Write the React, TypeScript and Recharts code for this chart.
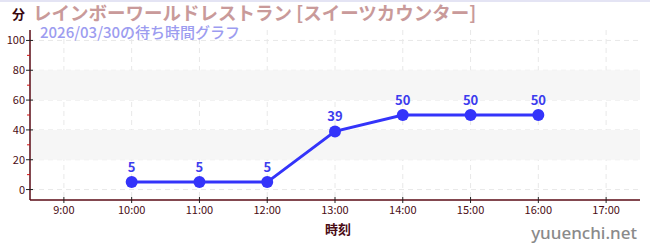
import {
  LineChart,
  Line,
  XAxis,
  YAxis,
  CartesianGrid,
  ReferenceArea,
  LabelList,
} from 'recharts'

const hours = [10, 11, 12, 13, 14, 15, 16]
const waits = [5, 5, 5, 39, 50, 50, 50]
const hourTicks = [9, 10, 11, 12, 13, 14, 15, 16, 17]
const yTicks = [0, 10, 20, 30, 40, 50, 60, 70, 80, 90, 100]
const gridValues = [0, 20, 40, 60, 80, 100]
const bands = [
  [20, 40],
  [60, 80],
]

const data = hours.map((h, i) => ({ h, wait: waits[i] }))

const AXIS = '#5a0a14'
const TICK_TEXT = '#4a0c14'
const LINE = '#3434fa'
const FONT = '"Noto Sans CJK JP", "Noto Sans", sans-serif'

function YTick({ x, y, payload }: any) {
  const major = payload.value % 20 === 0
  if (!major) {
    return <line x1={x - 3} x2={x} y1={y} y2={y} stroke="#d01010" strokeWidth={1} />
  }
  return (
    <g>
      <line x1={x - 4} x2={x + 3} y1={y} y2={y} stroke="#222" strokeWidth={1} />
      <text x={x - 5} y={y} dy={4} textAnchor="end" fontSize={11} fill={TICK_TEXT} fontFamily={FONT}>
        {payload.value}
      </text>
    </g>
  )
}

function XTick({ x, y, payload }: any) {
  return (
    <g>
      <line x1={x} x2={x} y1={y - 3} y2={y + 3} stroke="#222" strokeWidth={1} />
      <text x={x} y={y} dy={14} textAnchor="middle" fontSize={11} fill={TICK_TEXT} fontFamily={FONT}>
        {`${payload.value}:00`}
      </text>
    </g>
  )
}

export default function App() {
  return (
    <div
      style={{
        position: 'absolute',
        left: 0,
        top: 0,
        width: 650,
        height: 250,
        background: '#fff',
        fontFamily: FONT,
      }}
    >
      <div style={{ position: 'absolute', left: 0, top: 0, width: 650, height: 2, background: '#e4e4f4' }} />
      <LineChart
        width={650}
        height={250}
        data={data}
        margin={{ top: 30, right: 10, bottom: 30, left: 0 }}
        style={{ position: 'absolute', left: 0, top: 0 }}
      >
        {bands.map(([a, b]) => (
          <ReferenceArea key={a} y1={a} y2={b} fill="#f6f6f6" fillOpacity={1} stroke="none" ifOverflow="hidden" />
        ))}
        <CartesianGrid
          stroke="#e8e8e8"
          strokeDasharray="5 4"
          horizontalValues={gridValues}
          verticalValues={hourTicks}
        />
        <XAxis
          type="number"
          dataKey="h"
          domain={[8.5, 17.5]}
          ticks={hourTicks}
          interval={0}
          tick={<XTick />}
          tickLine={false}
          tickSize={0}
          tickMargin={0}
          axisLine={{ stroke: AXIS, strokeWidth: 1.5 }}
          height={20}
        />
        <YAxis
          type="number"
          domain={[-7, 107]}
          ticks={yTicks}
          interval={0}
          tick={<YTick />}
          tickLine={false}
          tickSize={0}
          tickMargin={0}
          axisLine={{ stroke: AXIS, strokeWidth: 1.5 }}
          width={30}
        />
        <Line
          dataKey="wait"
          stroke={LINE}
          strokeWidth={3}
          dot={{ r: 6, fill: LINE, stroke: LINE, strokeWidth: 0 }}
          activeDot={false}
          isAnimationActive={false}
        >
          <LabelList
            dataKey="wait"
            position="top"
            offset={10}
            fill="#3c3cee"
            fontSize={13}
            fontWeight="bold"
            fontFamily={FONT}
          />
        </Line>
      </LineChart>
      <div style={{ position: 'absolute', left: 12, top: 6, fontSize: 13, fontWeight: 'bold', color: '#3a0810', lineHeight: '16px' }}>
        分
      </div>
      <div style={{ position: 'absolute', left: 33, top: 1, fontSize: 18.5, fontWeight: 'bold', color: '#c99a9a', lineHeight: '22px', whiteSpace: 'nowrap' }}>
        レインボーワールドレストラン [スイーツカウンター]
      </div>
      <div style={{ position: 'absolute', left: 40, top: 24, fontSize: 15, fontWeight: 500, color: '#9c9cf0', lineHeight: '15px', whiteSpace: 'nowrap' }}>
        2026/03/30の待ち時間グラフ
      </div>
      <div style={{ position: 'absolute', left: 338, top: 220, transform: 'translateX(-50%)', fontSize: 13, fontWeight: 'bold', color: '#4a0c14', lineHeight: '18px' }}>
        時刻
      </div>
      <div style={{ position: 'absolute', right: 13, top: 222, fontSize: 17, fontFamily: '"Noto Sans", sans-serif', fontWeight: 500, color: '#8a8a8a', lineHeight: '22px' }}>
        yuuenchi.net
      </div>
    </div>
  )
}
